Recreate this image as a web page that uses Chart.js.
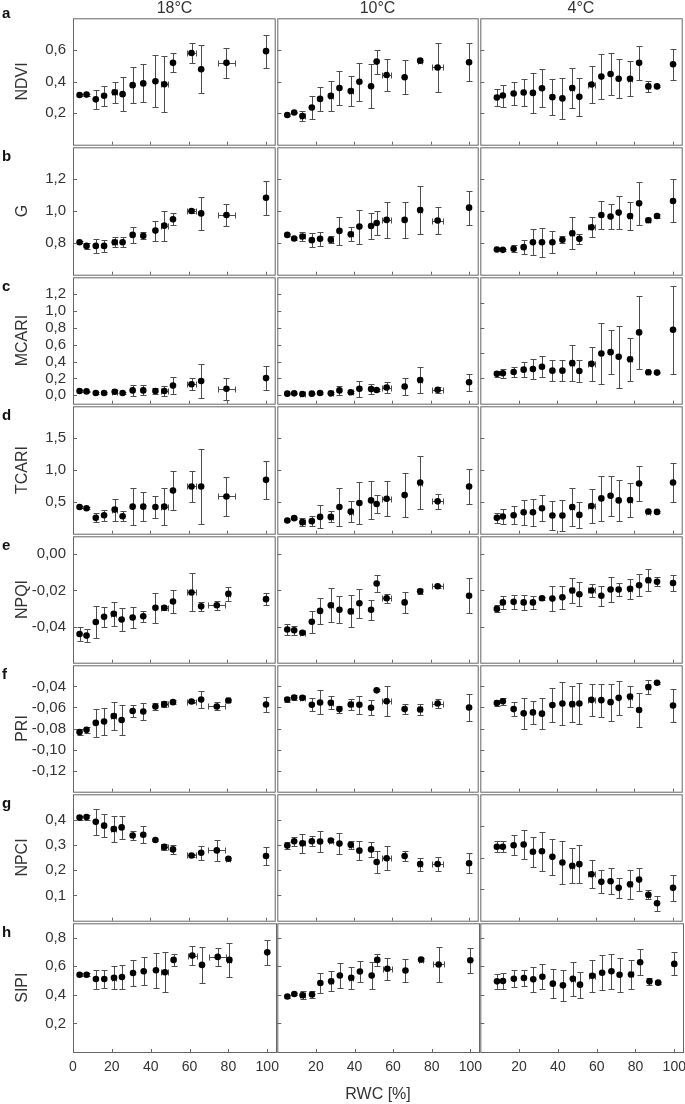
<!DOCTYPE html>
<html><head><meta charset="utf-8">
<script src="https://cdn.jsdelivr.net/npm/chart.js"></script>
<style>
html,body{margin:0;padding:0;background:#fff;}
body{width:685px;height:1104px;position:relative;overflow:hidden;font-family:"Liberation Sans",Arial,sans-serif;}
.lab{position:absolute;color:#333;font-size:16px;line-height:20px;white-space:nowrap;transform:translate(-50%,-50%);}
.let{position:absolute;font-weight:bold;font-size:15px;line-height:18px;color:#111;}
</style></head><body>
<script>
// ---- RWC (x) groups and their SE ----
const rwc18a = [3.4, 7.0, 11.8, 16.1, 21.6, 25.7, 30.9, 36.4, 42.7, 47.3, 51.8, 61.4, 66.4, 79.5, 100];
const rwc18aErr = [0, 0, 0, 0, 1.2, 0, 0, 0, 0, 1.8, 0, 2.3, 0, 4.5, 0];
const rwc18b = [3.4, 7.0, 11.8, 16.1, 21.1, 25.2, 30.9, 36.4, 42.7, 47.3, 51.8, 61.4, 66.4, 74.5, 80.5, 100];
const rwc18bErr = [0, 0, 0, 0, 1.2, 0, 0, 0, 0, 1.8, 0, 2.3, 0, 4.5, 1.0, 0];
const rwc10 = [5.2, 8.8, 13.1, 18.0, 22.3, 27.9, 32.4, 38.3, 42.8, 48.9, 51.8, 57.0, 66.4, 74.5, 83.6, 100];
const rwc10Err = [0, 0, 1.2, 0, 0, 1.0, 0, 1.0, 0, 0, 0, 2.2, 0, 1.0, 2.7, 0];
const rwc4 = [8.6, 11.7, 17.3, 22.5, 27.3, 32.0, 37.4, 42.6, 47.7, 51.4, 57.7, 62.8, 67.6, 71.8, 77.7, 82.4, 87.2, 91.7, 100];
const rwc4Err = [0, 0, 0, 0, 0, 0, 0, 0, 1.0, 0, 1.6, 0, 0, 0, 1.2, 0, 1.0, 0, 0];

// ---- a: NDVI ----
const ndvi18 = [0.315, 0.317, 0.287, 0.31, 0.332, 0.32, 0.377, 0.388, 0.402, 0.383, 0.518, 0.58, 0.478, 0.518, 0.592];
const ndvi18Err = [0.006, 0.006, 0.062, 0.064, 0.068, 0.108, 0.116, 0.12, 0.163, 0.176, 0.06, 0.064, 0.152, 0.095, 0.105];
const ndvi10 = [0.188, 0.204, 0.181, 0.235, 0.29, 0.309, 0.359, 0.34, 0.398, 0.37, 0.526, 0.441, 0.427, 0.532, 0.489, 0.522];
const ndvi10Err = [0.006, 0.006, 0.031, 0.074, 0.078, 0.095, 0.11, 0.093, 0.12, 0.14, 0.076, 0.102, 0.108, 0.006, 0.154, 0.119];
const ndvi4 = [0.299, 0.311, 0.324, 0.33, 0.328, 0.357, 0.301, 0.293, 0.359, 0.303, 0.381, 0.431, 0.447, 0.417, 0.417, 0.518, 0.369, 0.369, 0.509];
const ndvi4Err = [0.056, 0.07, 0.074, 0.087, 0.125, 0.12, 0.113, 0.132, 0.126, 0.119, 0.12, 0.141, 0.134, 0.124, 0.111, 0.107, 0.034, 0.006, 0.098];
// ---- b: G ----
const g18 = [0.804, 0.781, 0.781, 0.781, 0.804, 0.804, 0.85, 0.844, 0.877, 0.908, 0.948, 1.0, 0.985, 0.975, 1.083];
const g18Err = [0.008, 0.02, 0.043, 0.04, 0.03, 0.033, 0.05, 0.022, 0.063, 0.094, 0.038, 0.01, 0.106, 0.07, 0.106];
const g10 = [0.85, 0.827, 0.84, 0.817, 0.825, 0.819, 0.875, 0.854, 0.902, 0.906, 0.925, 0.944, 0.944, 1.006, 0.94, 1.021];
const g10Err = [0.008, 0.01, 0.031, 0.042, 0.044, 0.023, 0.089, 0.045, 0.107, 0.082, 0.073, 0.115, 0.115, 0.153, 0.086, 0.106];
const g4 = [0.758, 0.756, 0.763, 0.773, 0.804, 0.804, 0.804, 0.819, 0.86, 0.825, 0.898, 0.975, 0.965, 0.99, 0.969, 1.048, 0.942, 0.969, 1.063];
const g4Err = [0.006, 0.006, 0.023, 0.043, 0.08, 0.09, 0.07, 0.023, 0.1, 0.033, 0.063, 0.088, 0.081, 0.104, 0.088, 0.135, 0.012, 0.01, 0.135];
// ---- c: MCARI ----
const mcari18 = [0.05, 0.046, 0.027, 0.027, 0.042, 0.027, 0.058, 0.058, 0.05, 0.05, 0.115, 0.131, 0.169, 0.077, 0.204];
const mcari18Err = [0.008, 0.008, 0.006, 0.006, 0.015, 0.006, 0.067, 0.058, 0.035, 0.058, 0.1, 0.071, 0.198, 0.129, 0.144];
const mcari10 = [0.019, 0.023, 0.015, 0.019, 0.027, 0.023, 0.058, 0.035, 0.077, 0.073, 0.062, 0.092, 0.104, 0.181, 0.065, 0.154];
const mcari10Err = [0.006, 0.006, 0.006, 0.006, 0.01, 0.01, 0.05, 0.01, 0.092, 0.058, 0.008, 0.069, 0.1, 0.156, 0.033, 0.098];
const mcari4 = [0.354, 0.362, 0.377, 0.404, 0.412, 0.438, 0.392, 0.392, 0.481, 0.388, 0.473, 0.596, 0.612, 0.558, 0.527, 0.846, 0.373, 0.369, 0.877];
const mcari4Err = [0.033, 0.052, 0.058, 0.085, 0.119, 0.123, 0.121, 0.121, 0.217, 0.125, 0.202, 0.365, 0.263, 0.367, 0.258, 0.437, 0.01, 0.008, 0.521];
// ---- d: TCARI ----
const tcari18 = [0.42, 0.399, 0.249, 0.29, 0.378, 0.275, 0.425, 0.425, 0.42, 0.425, 0.679, 0.741, 0.741, 0.585, 0.845];
const tcari18Err = [0.02, 0.015, 0.073, 0.085, 0.174, 0.083, 0.285, 0.23, 0.179, 0.285, 0.308, 0.236, 0.596, 0.306, 0.3];
const tcari10 = [0.207, 0.244, 0.181, 0.197, 0.264, 0.264, 0.42, 0.347, 0.482, 0.523, 0.466, 0.549, 0.606, 0.803, 0.508, 0.741];
const tcari10Err = [0.015, 0.015, 0.065, 0.083, 0.181, 0.085, 0.298, 0.163, 0.337, 0.298, 0.14, 0.277, 0.342, 0.415, 0.117, 0.272];
const tcari4 = [0.249, 0.269, 0.29, 0.337, 0.337, 0.399, 0.285, 0.285, 0.42, 0.295, 0.435, 0.554, 0.596, 0.523, 0.528, 0.788, 0.347, 0.342, 0.803];
const tcari4Err = [0.083, 0.124, 0.142, 0.194, 0.212, 0.207, 0.225, 0.238, 0.303, 0.207, 0.264, 0.35, 0.311, 0.319, 0.264, 0.269, 0.015, 0.01, 0.311];
// ---- e: NPQI ----
const npqi18 = [-0.0441, -0.045, -0.0375, -0.0346, -0.0329, -0.0361, -0.035, -0.0343, -0.0296, -0.0296, -0.0261, -0.0211, -0.0288, -0.0282, -0.0218, -0.0248];
const npqi18Err = [0.004, 0.0038, 0.0089, 0.0056, 0.0067, 0.0062, 0.0059, 0.003, 0.0083, 0.0012, 0.0062, 0.0105, 0.0024, 0.0025, 0.0038, 0.0032];
const npqi10 = [-0.0416, -0.042, -0.0434, -0.0373, -0.0313, -0.0282, -0.0307, -0.0316, -0.0271, -0.0307, -0.0161, -0.0243, -0.0266, -0.0204, -0.0177, -0.0229];
const npqi10Err = [0.0029, 0.0025, 0.0008, 0.006, 0.0074, 0.0094, 0.0075, 0.0089, 0.008, 0.0054, 0.0049, 0.0024, 0.0058, 0.0013, 0.001, 0.0098];
const npqi4 = [-0.0302, -0.0266, -0.0263, -0.0266, -0.0266, -0.0243, -0.0245, -0.0238, -0.02, -0.0221, -0.02, -0.0229, -0.0195, -0.0195, -0.0191, -0.0171, -0.0143, -0.0152, -0.0159];
const npqi4Err = [0.0019, 0.0036, 0.0038, 0.0041, 0.0037, 0.0008, 0.007, 0.0062, 0.007, 0.0066, 0.0036, 0.0055, 0.0069, 0.0038, 0.0056, 0.0062, 0.0061, 0.0024, 0.0045];
// ---- f: PRI ----
const pri18 = [-0.0834, -0.0813, -0.0747, -0.0734, -0.0681, -0.0719, -0.0634, -0.0638, -0.0591, -0.0569, -0.055, -0.0544, -0.0525, -0.0591, -0.0534, -0.0572];
const pri18Err = [0.0027, 0.003, 0.0136, 0.013, 0.0136, 0.0145, 0.0059, 0.0083, 0.0033, 0.0031, 0.0019, 0.0014, 0.0078, 0.0038, 0.0016, 0.0073];
const pri10 = [-0.0525, -0.0506, -0.0509, -0.0575, -0.0553, -0.0556, -0.0616, -0.0572, -0.0575, -0.0603, -0.0438, -0.0541, -0.0616, -0.0619, -0.0563, -0.06];
const pri10Err = [0.0028, 0.002, 0.0015, 0.0063, 0.0114, 0.0063, 0.0034, 0.0052, 0.0083, 0.007, 0.001, 0.0145, 0.0047, 0.0055, 0.0042, 0.0128];
const pri4 = [-0.0559, -0.0541, -0.0616, -0.0656, -0.0647, -0.0659, -0.0578, -0.0563, -0.0569, -0.0563, -0.0528, -0.0531, -0.055, -0.0509, -0.0497, -0.0625, -0.0406, -0.0366, -0.0581];
const pri4Err = [0.003, 0.0034, 0.0063, 0.0148, 0.0109, 0.0148, 0.0161, 0.0206, 0.0169, 0.0194, 0.0152, 0.0156, 0.0175, 0.0159, 0.0103, 0.0164, 0.007, 0.001, 0.0159];
// ---- g: NPCI ----
const npci18 = [0.408, 0.41, 0.391, 0.376, 0.363, 0.369, 0.337, 0.34, 0.319, 0.292, 0.282, 0.258, 0.269, 0.278, 0.245, 0.256];
const npci18Err = [0.008, 0.01, 0.051, 0.046, 0.053, 0.046, 0.016, 0.034, 0.005, 0.011, 0.019, 0.005, 0.028, 0.041, 0.005, 0.037];
const npci10 = [0.297, 0.314, 0.306, 0.314, 0.313, 0.317, 0.305, 0.3, 0.277, 0.282, 0.232, 0.247, 0.256, 0.224, 0.224, 0.227];
const npci10Err = [0.015, 0.019, 0.037, 0.02, 0.042, 0.005, 0.04, 0.015, 0.037, 0.029, 0.045, 0.048, 0.019, 0.026, 0.028, 0.04];
const npci4 = [0.234, 0.234, 0.239, 0.241, 0.218, 0.22, 0.202, 0.184, 0.174, 0.179, 0.147, 0.123, 0.125, 0.104, 0.115, 0.13, 0.082, 0.055, 0.104];
const npci4Err = [0.018, 0.018, 0.031, 0.045, 0.047, 0.062, 0.056, 0.067, 0.056, 0.06, 0.045, 0.036, 0.041, 0.031, 0.045, 0.036, 0.014, 0.024, 0.041];
// ---- h: SIPI ----
const sipi18 = [0.54, 0.54, 0.51, 0.51, 0.519, 0.524, 0.552, 0.565, 0.572, 0.558, 0.644, 0.674, 0.609, 0.665, 0.644, 0.697];
const sipi18Err = [0.01, 0.01, 0.066, 0.061, 0.08, 0.083, 0.092, 0.098, 0.121, 0.138, 0.044, 0.069, 0.125, 0.061, 0.121, 0.089];
const sipi10 = [0.388, 0.406, 0.397, 0.402, 0.482, 0.494, 0.535, 0.519, 0.563, 0.535, 0.644, 0.582, 0.57, 0.646, 0.612, 0.642];
const sipi10Err = [0.01, 0.008, 0.027, 0.025, 0.067, 0.069, 0.085, 0.075, 0.075, 0.097, 0.04, 0.076, 0.081, 0.008, 0.119, 0.087];
const sipi4 = [0.494, 0.496, 0.512, 0.517, 0.508, 0.526, 0.478, 0.466, 0.512, 0.471, 0.533, 0.554, 0.565, 0.54, 0.542, 0.628, 0.494, 0.485, 0.616];
const sipi4Err = [0.054, 0.058, 0.058, 0.058, 0.089, 0.088, 0.101, 0.11, 0.118, 0.09, 0.112, 0.123, 0.123, 0.118, 0.103, 0.092, 0.023, 0.008, 0.081];

// ---- tick labels ----
const xTickMarks = [20, 40, 60, 80, 100];
const xLabelsFirst = [0, 20, 40, 60, 80, 100];
const xLabelsOther = [20, 40, 60, 80, 100];
const ticksNDVI = [0.2, 0.4, 0.6];
const ticksG = [0.8, 1.0, 1.2];
const ticksMCARI = [0.0, 0.2, 0.4, 0.6, 0.8, 1.0, 1.2];
const ticksMCARI4 = [0.3, 0.6, 0.9, 1.2];
const ticksTCARI = [0.5, 1.0, 1.5];
const ticksNPQI = [0.0, -0.02, -0.04];
const ticksPRI = [-0.04, -0.06, -0.08, -0.10, -0.12];
const ticksNPCI = [0.1, 0.2, 0.3, 0.4];
const ticksNPCI4 = [0.1, 0.2, 0.3];
const ticksSIPI = [0.2, 0.4, 0.6, 0.8];
const colTitles = ['18°C', '10°C', '4°C'];

const rows = [
  {letter:'a', name:'NDVI', min:0, max:0.8, ticks:ticksNDVI, dec:1,
   cols:[[rwc18a, rwc18aErr, ndvi18, ndvi18Err],[rwc10, rwc10Err, ndvi10, ndvi10Err],[rwc4, rwc4Err, ndvi4, ndvi4Err]]},
  {letter:'b', name:'G', min:0.6, max:1.4, ticks:ticksG, dec:1,
   cols:[[rwc18a, rwc18aErr, g18, g18Err],[rwc10, rwc10Err, g10, g10Err],[rwc4, rwc4Err, g4, g4Err]]},
  {letter:'c', name:'MCARI', min:-0.1, max:1.4, ticks:ticksMCARI, dec:1, col3:{min:0, max:1.5, ticks:ticksMCARI4},
   cols:[[rwc18a, rwc18aErr, mcari18, mcari18Err],[rwc10, rwc10Err, mcari10, mcari10Err],[rwc4, rwc4Err, mcari4, mcari4Err]]},
  {letter:'d', name:'TCARI', min:0, max:2.0, ticks:ticksTCARI, dec:1,
   cols:[[rwc18a, rwc18aErr, tcari18, tcari18Err],[rwc10, rwc10Err, tcari10, tcari10Err],[rwc4, rwc4Err, tcari4, tcari4Err]]},
  {letter:'e', name:'NPQI', min:-0.06, max:0.01, ticks:ticksNPQI, dec:2,
   cols:[[rwc18b, rwc18bErr, npqi18, npqi18Err],[rwc10, rwc10Err, npqi10, npqi10Err],[rwc4, rwc4Err, npqi4, npqi4Err]]},
  {letter:'f', name:'PRI', min:-0.14, max:-0.02, ticks:ticksPRI, dec:2,
   cols:[[rwc18b, rwc18bErr, pri18, pri18Err],[rwc10, rwc10Err, pri10, pri10Err],[rwc4, rwc4Err, pri4, pri4Err]]},
  {letter:'g', name:'NPCI', min:0, max:0.5, ticks:ticksNPCI, dec:1, col3:{min:0, max:0.4, ticks:ticksNPCI4},
   cols:[[rwc18b, rwc18bErr, npci18, npci18Err],[rwc10, rwc10Err, npci10, npci10Err],[rwc4, rwc4Err, npci4, npci4Err]]},
  {letter:'h', name:'SIPI', min:0, max:0.9, ticks:ticksSIPI, dec:1,
   cols:[[rwc18b, rwc18bErr, sipi18, sipi18Err],[rwc10, rwc10Err, sipi10, sipi10Err],[rwc4, rwc4Err, sipi4, sipi4Err]]}
];

// ---- layout (pixels) ----
const colLeft = [73, 276, 479], colRight = 683;
const rowTop = [17, 146, 276, 405, 535, 664, 793, 922, 1052];
const X_MIN = 0, X_MAX = 104.5;
const TEXT = '#333', FRAME = '#666', ERR = '#4d4d4d';
const FONT = '"Liberation Sans", Arial, sans-serif';

function fmt(v, dec){ return (Math.abs(v) < 1e-9 ? 0 : v).toFixed(dec).replace('.', ','); }

function panelPlugin(yTicks){
  return {
    id: 'panel',
    beforeDatasetsDraw(chart){
      const ctx = chart.ctx, x = chart.scales.x, y = chart.scales.y;
      const pts = chart.data.datasets[0].data;
      ctx.save();
      ctx.strokeStyle = ERR; ctx.lineWidth = 1;
      ctx.beginPath();
      for (const p of pts){
        const px = Math.round(x.getPixelForValue(p.x)) + 0.5;
        const py = Math.round(y.getPixelForValue(p.y)) + 0.5;
        if (p.ye > 0){
          const y1 = Math.round(y.getPixelForValue(p.y + p.ye)) + 0.5;
          const y2 = Math.round(y.getPixelForValue(p.y - p.ye)) + 0.5;
          ctx.moveTo(px, y1); ctx.lineTo(px, y2);
          ctx.moveTo(px - 3, y1); ctx.lineTo(px + 3, y1);
          ctx.moveTo(px - 3, y2); ctx.lineTo(px + 3, y2);
        }
        if (p.xe > 0){
          const x1 = Math.round(x.getPixelForValue(p.x - p.xe)) + 0.5;
          const x2 = Math.round(x.getPixelForValue(p.x + p.xe)) + 0.5;
          ctx.moveTo(x1, py); ctx.lineTo(x2, py);
          ctx.moveTo(x1, py - 3); ctx.lineTo(x1, py + 3);
          ctx.moveTo(x2, py - 3); ctx.lineTo(x2, py + 3);
        }
      }
      ctx.stroke();
      ctx.restore();
    },
    afterDraw(chart){
      const ctx = chart.ctx, a = chart.chartArea, x = chart.scales.x, y = chart.scales.y;
      ctx.save();
      ctx.strokeStyle = FRAME; ctx.lineWidth = 1;
      ctx.beginPath();
      for (const v of xTickMarks){
        const px = Math.round(x.getPixelForValue(v)) + 0.5;
        ctx.moveTo(px, a.bottom); ctx.lineTo(px, a.bottom - 3);
      }
      for (const v of yTicks){
        const py = Math.round(y.getPixelForValue(v)) + 0.5;
        ctx.moveTo(a.left, py); ctx.lineTo(a.left + 4, py);
      }
      ctx.stroke();
      ctx.strokeRect(a.left + 0.5, a.top + 0.5, a.right - a.left, a.bottom - a.top);
      ctx.restore();
    }
  };
}

function zeroPad(s){ s.paddingTop = 0; s.paddingBottom = 0; s.paddingLeft = 0; s.paddingRight = 0; }

function makePanel(r, c){
  const row = rows[r];
  const [xs, xes, ys, yes] = row.cols[c];
  const ov = (c === 2 && row.col3) ? row.col3 : row;
  const cl = colLeft[c], cr = c < 2 ? colLeft[c + 1] : colRight;
  const ct = rowTop[r], cb = rowTop[r + 1];
  const first = c === 0, last = r === rows.length - 1;
  const axisW = first ? 73 : 0, padL = first ? 0 : 2;
  const padR = last ? 16 : 2, padT = 2, padB = last ? 0 : 2, axisH = last ? 30 : 0;
  const left = cl - axisW - padL, top = ct - padT;
  const w = (cr - cl) + axisW + padL + padR, h = (cb - ct) + padT + padB + axisH;
  const cv = document.createElement('canvas');
  cv.width = w; cv.height = h;
  cv.style.cssText = `position:absolute;left:${left}px;top:${top}px;width:${w}px;height:${h}px;`;
  document.body.appendChild(cv);
  const n = Math.min(xs.length, ys.length);
  const data = [];
  for (let i = 0; i < n; i++) data.push({x: xs[i], y: ys[i], xe: xes[i] || 0, ye: yes[i] || 0});
  const xLabels = first ? xLabelsFirst : xLabelsOther;

  new Chart(cv, {
    type: 'scatter',
    data: { datasets: [{ data, pointRadius: 3.3, pointHoverRadius: 3.3, backgroundColor: '#000', borderWidth: 0, clip: false }] },
    options: {
      responsive: false, animation: false, devicePixelRatio: 1, events: [],
      layout: { padding: { left: padL, right: padR, top: padT, bottom: padB } },
      plugins: { legend: { display: false }, tooltip: { enabled: false } },
      scales: {
        x: {
          type: 'linear', min: X_MIN, max: X_MAX, display: last,
          grid: { display: false, drawTicks: false }, border: { display: false },
          afterBuildTicks: s => { s.ticks = xLabels.map(v => ({ value: v })); },
          afterFit: s => { s.height = axisH; zeroPad(s); },
          ticks: { autoSkip: false, maxRotation: 0, padding: 7, color: TEXT,
                   font: { family: FONT, size: 14 }, callback: v => String(v) }
        },
        y: {
          type: 'linear', min: ov.min, max: ov.max, display: first,
          grid: { display: false, drawTicks: false }, border: { display: false },
          afterBuildTicks: s => { s.ticks = ov.ticks.map(v => ({ value: v })); },
          afterFit: s => { s.width = axisW; zeroPad(s); },
          ticks: { autoSkip: false, padding: 7, color: TEXT,
                   font: { family: FONT, size: 15 }, callback: v => fmt(v, row.dec) },
          title: { display: true, text: row.name, color: TEXT, font: { family: FONT, size: 16 },
                   padding: { top: 13, bottom: 0 } }
        }
      }
    },
    plugins: [panelPlugin(ov.ticks)]
  });
}

for (let r = 0; r < rows.length; r++) for (let c = 0; c < 3; c++) makePanel(r, c);

// ---- text around the grid ----
function addDiv(cls, text, x, y){
  const d = document.createElement('div');
  d.className = cls; d.textContent = text;
  d.style.left = x + 'px'; d.style.top = y + 'px';
  document.body.appendChild(d);
}
colTitles.forEach((t, c) => {
  const cl = colLeft[c], cr = c < 2 ? colLeft[c + 1] : colRight;
  addDiv('lab', t, (cl + cr) / 2, 8);
});
rows.forEach((row, r) => addDiv('let', row.letter, 2, r === 0 ? 4 : rowTop[r] + 1));
addDiv('lab', 'RWC [%]', 378, 1094);
</script>
</body></html>
